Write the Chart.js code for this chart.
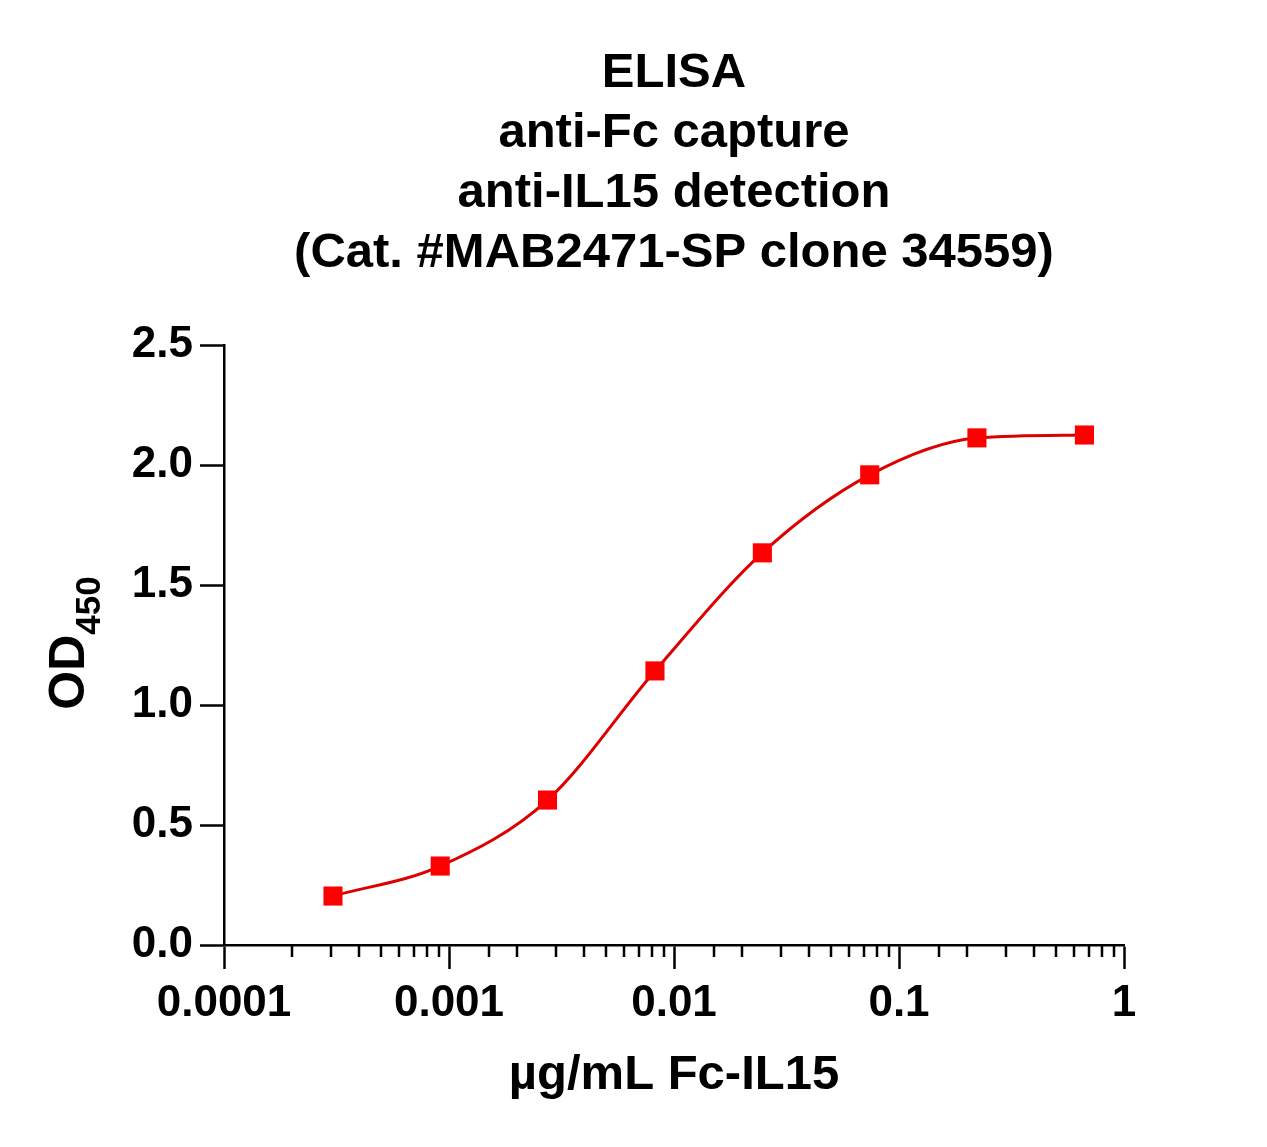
<!DOCTYPE html>
<html>
<head>
<meta charset="utf-8">
<title>ELISA anti-IL15</title>
<script src="https://cdn.jsdelivr.net/npm/chart.js@4/dist/chart.umd.min.js"></script>
<style>
  html, body { margin: 0; padding: 0; background: #fff; }
  #wrap { width: 1267px; height: 1147px; }
</style>
</head>
<body>
<div id="wrap"><canvas id="elisaChart" width="1267" height="1147"></canvas></div>
<script>
// values
const titleLines = ['ELISA', 'anti-Fc capture', 'anti-IL15 detection', '(Cat. #MAB2471-SP clone 34559)'];
const concentrations = [0.000305, 0.000914, 0.00274, 0.00823, 0.0247, 0.0741, 0.222, 0.667];
const od450 = [0.204, 0.329, 0.604, 1.142, 1.634, 1.959, 2.113, 2.125];
const xTickLabels = ['0.0001', '0.001', '0.01', '0.1', '1'];
const yTickLabels = ['0.0', '0.5', '1.0', '1.5', '2.0', '2.5'];
const xTitle = 'µg/mL Fc-IL15';

const FONT = "'Liberation Sans', Arial, Helvetica, sans-serif";

function isDecade(v) {
    const l = Math.log10(v);
    return Math.abs(l - Math.round(l)) < 1e-6;
}

// chart title, the OD450 label with subscript and the short minor ticks
const extras = {
    id: 'extras',
    afterDraw(chart) {
        const ctx = chart.ctx;
        const area = chart.chartArea;
        const cx = (area.left + area.right) / 2;

        ctx.save();
        ctx.fillStyle = '#000';
        ctx.textAlign = 'center';
        ctx.textBaseline = 'middle';
        ctx.font = 'bold 49px ' + FONT;
        titleLines.forEach(function(line, i) {
            ctx.fillText(line, cx, 73 + i * 60);
        });
        ctx.restore();

        // y axis title
        ctx.save();
        ctx.translate(68, 643);
        ctx.rotate(-Math.PI / 2);
        ctx.fillStyle = '#000';
        ctx.textBaseline = 'alphabetic';
        ctx.textAlign = 'left';
        ctx.font = 'bold 50px ' + FONT;
        const w1 = ctx.measureText('OD').width;
        ctx.font = 'bold 35px ' + FONT;
        const w2 = ctx.measureText('450').width;
        const start = -(w1 + w2) / 2;
        ctx.font = 'bold 50px ' + FONT;
        ctx.fillText('OD', start, 16);
        ctx.font = 'bold 35px ' + FONT;
        ctx.fillText('450', start + w1, 32);
        ctx.restore();

        // minor ticks on the log axis
        const xs = chart.scales.x;
        ctx.save();
        ctx.strokeStyle = '#000';
        ctx.lineWidth = 2.5;
        ctx.beginPath();
        xs.ticks.forEach(function(t) {
            if (isDecade(t.value)) return;
            const px = Math.round(xs.getPixelForValue(t.value));
            ctx.moveTo(px, area.bottom);
            ctx.lineTo(px, area.bottom + 12);
        });
        ctx.stroke();
        ctx.restore();
    }
};

const ctx = document.getElementById('elisaChart').getContext('2d');
const elisaChart = new Chart(ctx, {
    type: 'scatter',
    data: {
        datasets: [{
            label: 'OD450',
            data: concentrations.map(function(c, i) { return { x: c, y: od450[i] }; }),
            showLine: true,
            cubicInterpolationMode: 'monotone',
            borderColor: '#dd0000',
            borderWidth: 3,
            backgroundColor: '#ff0000',
            pointBackgroundColor: '#ff0000',
            pointBorderWidth: 0,
            pointStyle: 'rect',
            pointRadius: 13.5
        }]
    },
    options: {
        responsive: false,
        animation: false,
        devicePixelRatio: 1,
        layout: {
            padding: { top: 345, right: 143, left: 0, bottom: 0 }
        },
        plugins: {
            legend: { display: false },
            tooltip: { enabled: false },
            title: { display: false }
        },
        scales: {
            x: {
                type: 'logarithmic',
                min: 0.0001,
                max: 1,
                afterFit: function(scale) { scale.height = 202; },
                border: { display: true, color: '#000', width: 2.5 },
                grid: {
                    display: true,
                    drawOnChartArea: false,
                    drawTicks: true,
                    tickLength: 24,
                    tickWidth: 2.5,
                    tickColor: function(c) {
                        return c.tick && isDecade(c.tick.value) ? '#000' : 'rgba(0,0,0,0)';
                    }
                },
                ticks: {
                    autoSkip: false,
                    maxRotation: 0,
                    padding: 8,
                    color: '#000',
                    font: { family: FONT, size: 44, weight: 'bold' },
                    callback: function(value) {
                        if (!isDecade(value)) return '';
                        const hit = xTickLabels.find(function(s) { return Math.abs(Number(s) - value) < value * 1e-6; });
                        return hit || '';
                    }
                },
                title: {
                    display: true,
                    text: xTitle,
                    color: '#000',
                    font: { family: FONT, size: 49, weight: 'bold' },
                    padding: { top: 0, bottom: 42 }
                }
            },
            y: {
                type: 'linear',
                min: 0,
                max: 2.5,
                afterFit: function(scale) { scale.width = 224; },
                border: { display: true, color: '#000', width: 2.5 },
                grid: {
                    display: true,
                    drawOnChartArea: false,
                    drawTicks: true,
                    tickLength: 24,
                    tickWidth: 2.5,
                    tickColor: '#000'
                },
                ticks: {
                    stepSize: 0.5,
                    padding: 7,
                    color: '#000',
                    font: { family: FONT, size: 44, weight: 'bold' },
                    callback: function(value) {
                        return yTickLabels[Math.round(value / 0.5)];
                    }
                }
            }
        }
    },
    plugins: [extras]
});
</script>
</body>
</html>
